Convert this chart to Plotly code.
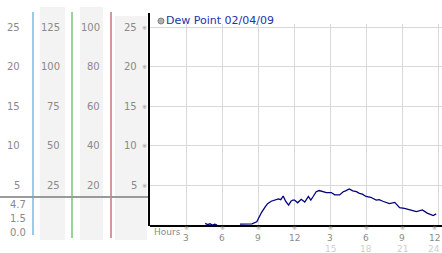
import plotly.graph_objects as go

W, H = 442, 253

# ---- data ----
hours = [4.6, 4.8, 5.0, 5.2, 5.4, 5.6, 6.5, 7.5, 8.0, 8.5, 8.9, 9.1, 9.3, 9.6, 9.8, 10.1, 10.3, 10.5,
         10.7, 10.9, 11.1, 11.3, 11.55, 11.75, 11.9, 12.05, 12.3, 12.6, 12.9, 13.2, 13.4, 13.6, 13.85,
         14.1, 14.4, 14.7, 15.1, 15.4, 15.8, 16.1, 16.3, 16.6, 16.9, 17.2, 17.45, 17.7, 18.0, 18.4,
         18.85, 19.1, 19.4, 19.95, 20.4, 20.8, 21.2, 21.6, 22.2, 22.7, 23.1, 23.6, 23.85]
dew = [0.2, 0.05, 0.15, 0.0, 0.1, 0.0, None, 0.1, 0.1, 0.15, 0.4, 1.05, 1.6, 2.3, 2.7, 3.0, 3.1, 3.15,
       3.3, 3.2, 3.66, 3.0, 2.5, 3.0, 3.15, 3.15, 2.8, 3.25, 2.9, 3.6, 3.15, 3.6, 4.2,
       4.35, 4.2, 4.1, 4.1, 3.8, 3.8, 4.2, 4.3, 4.55, 4.3, 4.2, 4.0, 3.9, 3.6, 3.5,
       3.15, 3.2, 3.0, 2.7, 2.85, 2.2, 2.1, 1.9, 1.7, 1.9, 1.5, 1.2, 1.4]

series_name = "Dew Point 02/04/09"
x_ticks = [3, 6, 9, 12, 15, 18, 21, 24]
x_tick_labels = ["3", "6", "9", "12", "3", "6", "9", "12"]
x_tick_labels2 = ["", "", "", "", "15", "18", "21", "24"]
y_ticks = [5, 10, 15, 20, 25]
col1 = ["5", "10", "15", "20", "25"]
col2 = ["25", "50", "75", "100", "125"]
col3 = ["20", "40", "60", "80", "100"]
col4 = ["5", "10", "15", "20", "25"]
stats = ["4.7", "1.5", "0.0"]

def px(x):
    return x / W

def py(y):
    return 1 - y / H

# axis geometry
x0_px, x24_px = 150, 438
ppu_x = (x24_px - x0_px) / 24
x_max = (W - x0_px) / ppu_x
y0_px, y25_px = 225, 27
ppu_y = (y0_px - y25_px) / 25
top_px = 24
y_max = (y0_px - top_px) / ppu_y

FONT = "DejaVu Sans"
GRAY = "#8a8a8a"

fig = go.Figure()
fig.add_trace(go.Scatter(x=hours, y=dew, mode="lines", connectgaps=False,
                         line=dict(color="#000080", width=1.3), showlegend=False,
                         hoverinfo="skip"))

fig.update_layout(
    width=W, height=H, margin=dict(l=0, r=0, t=0, b=0),
    paper_bgcolor="white", plot_bgcolor="white",
    font=dict(family=FONT, size=10, color=GRAY),
    xaxis=dict(domain=[px(x0_px), 1], range=[0, x_max], tickvals=x_ticks, showticklabels=False,
               showgrid=True, gridcolor="#d9d9d9", gridwidth=1, zeroline=False,
               showline=True, linecolor="black", linewidth=2, ticks=""),
    yaxis=dict(domain=[py(y0_px), py(top_px)], range=[0, y_max], tickvals=y_ticks,
               showticklabels=False, showgrid=True, gridcolor="#d9d9d9", gridwidth=1,
               zeroline=False, showline=False, ticks=""),
)

shapes = []
# gray bands in left panel
for (a, b, t) in [(40, 65, 7), (80, 103, 7), (115, 147, 16)]:
    shapes.append(dict(type="rect", xref="paper", yref="paper", x0=px(a), x1=px(b),
                       y0=py(240), y1=py(t), fillcolor="#f3f3f3", line=dict(width=0), layer="below"))
# colored vertical lines
for (xx, col, yb) in [(33, "#3399cc", 235), (72, "#33aa33", 238), (111, "#aa3333", 238)]:
    shapes.append(dict(type="line", xref="paper", yref="paper", x0=px(xx), x1=px(xx),
                       y0=py(yb), y1=py(12), line=dict(color=col, width=1)))
# gray horizontal line
shapes.append(dict(type="line", xref="paper", yref="paper", x0=0, x1=px(149),
                   y0=py(197), y1=py(197), line=dict(color="#9a9a9a", width=2)))
# black y axis line
shapes.append(dict(type="line", xref="paper", yref="paper", x0=px(149), x1=px(149),
                   y0=py(226), y1=py(13), line=dict(color="black", width=2)))
# legend marker
shapes.append(dict(type="circle", xref="paper", yref="paper", x0=px(158), x1=px(164),
                   y0=py(24), y1=py(18), fillcolor="#b0b0b0", line=dict(color="#808080", width=1)))
fig.update_layout(shapes=shapes)

ann = []
def label(text, x, y, xanchor="right", size=10, color=GRAY, yref="paper", yanchor="middle"):
    ann.append(dict(text=text, x=x, y=y, xref="paper", yref=yref, xanchor=xanchor,
                    yanchor=yanchor, showarrow=False, borderpad=0,
                    font=dict(size=size, color=color, family=FONT)))

for i, v in enumerate(y_ticks):
    label(col1[i], px(21), v, yref="y")
    label(col2[i], px(61), v, yref="y")
    label(col3[i], px(101), v, yref="y")
    label(col4[i], px(138), v, yref="y")
    label("※", px(144.5), v, xanchor="center", size=6, color="#999999", yref="y")
for s, yy in zip(stats, [204, 218, 232]):
    label(s, px(27), py(yy))

# x tick labels
for v, t1, t2 in zip(x_ticks, x_tick_labels, x_tick_labels2):
    xp = (x0_px + v * ppu_x)
    anchor = "center"
    if xp > W - 8:
        xp = W - 1
        anchor = "right"
    label("※", px(xp - (3 if anchor == "right" else 0)), py(231.5), xanchor=anchor, size=6,
          color="#999999", yanchor="bottom")
    label(t1, px(xp), py(231.5), xanchor=anchor, size=9, yanchor="top")
    if t2:
        label(t2, px(xp), py(243.3), xanchor=anchor, size=9, color="#cfcfcf", yanchor="top")
label("Hours", px(153), py(232), xanchor="left", size=9)

# legend
label(series_name, px(165), py(21), xanchor="left", size=11, color="#2233aa")
fig.update_layout(annotations=ann)

fig.write_html("out.html")
